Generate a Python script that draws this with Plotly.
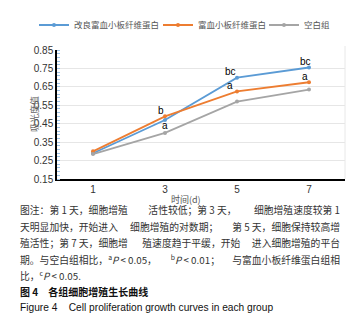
import re
import plotly.graph_objects as go

days = ["1", "3", "5", "7"]
improved_prf = [0.29, 0.47, 0.70, 0.755]
prf = [0.30, 0.49, 0.625, 0.675]
blank = [0.285, 0.40, 0.57, 0.635]
series_names = ["改良富血小板纤维蛋白", "富血小板纤维蛋白", "空白组"]
colors = ["#5B9BD5", "#ED7D31", "#A5A5A5"]
y_ticks = [0.15, 0.25, 0.35, 0.45, 0.55, 0.65, 0.75, 0.85]

# significance labels: (series index, day index, text)
sig_labels = [
    (1, 1, "b"), (0, 1, "a"),
    (0, 2, "bc"), (1, 2, "a"),
    (0, 3, "bc"), (1, 3, "a"),
]

# caption lines split into chunks (spread to mimic justified text)
caption_lines = [
    ["图注：第 1 天，细胞增殖", "活性较低；第 3 天，", "细胞增殖速度较第 1"],
    ["天明显加快，开始进入", "细胞增殖的对数期；", "第 5 天，细胞保持较高增"],
    ["殖活性；第 7 天，细胞增", "殖速度趋于平缓，开始", "进入细胞增殖的平台"],
    ["期。与空白组相比，<sup>a</sup><i>P</i> < 0.05，",
     "<sup>b</sup><i>P</i> < 0.01；", "与富血小板纤维蛋白组相"],
    ["比，<sup>c</sup><i>P</i> < 0.05."],
]
fig_title_cn = "<b>图 4　各组细胞增殖生长曲线</b>"
fig_title_en = "Figure 4\u00a0\u00a0\u00a0\u00a0Cell proliferation growth curves in each group"

# page body has an 8px margin: figure is drawn 8px right/down
OFF = 8
W, H = 359 - OFF, 323 - OFF


def fx(r):
    return (r - OFF) / W


def fy(r):
    return 1 - (r - OFF) / H


def pxx(r):
    return r - OFF


L, R, T, B = 57, 345, 50, 179  # plot box in reference pixels

CAP_FS = 9.8
RENDER = 1.12


def est_width(s, fs):
    s = re.sub(r"<sup>(.*?)</sup>", lambda m: "\x01" * len(m.group(1)), s)
    s = re.sub(r"<[^>]+>", "", s)
    w = 0.0
    for ch in s:
        if ch == "\x01":
            w += 0.4
        elif ord(ch) > 0x2E80:
            w += 1.0
        elif ch in " .,\u00a0":
            w += 0.27
        else:
            w += 0.52
    return w * fs * RENDER


fig = go.Figure()
all_series = [improved_prf, prf, blank]
legend_ids = ["legend", "legend2", "legend3"]
for name, vals, c, lg in zip(series_names, all_series, colors, legend_ids):
    fig.add_trace(go.Scatter(
        x=days, y=vals, name=name, mode="lines+markers",
        line=dict(color=c, width=1.8),
        marker=dict(color=c, size=4),
        legend=lg, xaxis="x", yaxis="y",
    ))

# caption text drawn as text traces on a hidden full-figure pixel axis
LEFT, RIGHT = 20, 340
cap_y = [212, 228.5, 245, 261.5, 278]
tx, ty, tt, tp = [], [], [], []
for yy, chunks in zip(cap_y, caption_lines):
    if len(chunks) == 1:
        tx.append(pxx(LEFT)); ty.append(pxx(yy)); tt.append(chunks[0]); tp.append("middle right")
        continue
    widths = [est_width(c, CAP_FS) for c in chunks]
    gap = (RIGHT - LEFT - sum(widths)) / (len(chunks) - 1)
    xpos = LEFT
    for i, (c, w) in enumerate(zip(chunks, widths)):
        if i == 0:
            tx.append(pxx(LEFT)); tp.append("middle right")
        elif i == len(chunks) - 1:
            tx.append(pxx(RIGHT)); tp.append("middle left")
        else:
            tx.append(pxx(xpos + w / 2)); tp.append("middle center")
        ty.append(pxx(yy)); tt.append(c)
        xpos += w + gap

fig.add_trace(go.Scatter(
    x=tx, y=ty, text=tt, textposition=tp, mode="text",
    textfont=dict(family="Noto Sans CJK SC", size=CAP_FS, color="#333"),
    xaxis="x2", yaxis="y2", showlegend=False, hoverinfo="skip", cliponaxis=False,
))
fig.add_trace(go.Scatter(
    x=[pxx(LEFT)], y=[pxx(293)], text=[fig_title_cn], textposition="middle right",
    mode="text", textfont=dict(family="Noto Sans CJK SC", size=10, color="#111"),
    xaxis="x2", yaxis="y2", showlegend=False, hoverinfo="skip", cliponaxis=False,
))
fig.add_trace(go.Scatter(
    x=[pxx(LEFT)], y=[pxx(308)], text=[fig_title_en], textposition="middle right",
    mode="text", textfont=dict(family="Liberation Sans, Arial", size=10.2, color="#111"),
    xaxis="x2", yaxis="y2", showlegend=False, hoverinfo="skip", cliponaxis=False,
))

annotations = []
for si, di, txt in sig_labels:
    yv = all_series[si][di]
    if si == 0 and di == 1:
        ysh, xsh = -5, 0
    elif di == 2:
        ysh, xsh = 6, -7
    else:
        ysh, xsh = 6, -4
    annotations.append(dict(
        x=di, y=yv, xref="x", yref="y", text=txt, showarrow=False,
        xshift=xsh, yshift=ysh,
        font=dict(family="Liberation Sans, Arial", size=10, color="#000"),
    ))

annotations.append(dict(
    x=fx(26), y=fy((T + B) / 2), xref="paper", yref="paper", text="吸光度值",
    textangle=-90, showarrow=False,
    font=dict(family="Noto Sans CJK SC", size=9, color="#666"),
))
annotations.append(dict(
    x=fx(186), y=fy(199), xref="paper", yref="paper", text="时间(d)",
    showarrow=False, yanchor="middle",
    font=dict(family="Noto Sans CJK SC", size=9, color="#555"),
))

leg_font = dict(family="Noto Sans CJK SC", size=8.5, color="#555")
leg_x = [34, 158, 264]
legends = {}
for lg, lx in zip(legend_ids, leg_x):
    legends[lg] = dict(
        orientation="h", x=fx(lx), y=fy(25), xanchor="left", yanchor="middle",
        font=leg_font, itemwidth=30, bgcolor="rgba(0,0,0,0)", borderwidth=0,
    )

fig.update_layout(
    width=W, height=H,
    margin=dict(l=0, r=0, t=0, b=0, pad=0, autoexpand=False),
    paper_bgcolor="white", plot_bgcolor="rgba(0,0,0,0)",
    showlegend=True,
    annotations=annotations,
    shapes=[dict(type="line", xref="paper", yref="paper", x0=fx(R), x1=fx(R),
                 y0=fy(B), y1=fy(T - 4), line=dict(color="#e8e8e8", width=1))],
    xaxis=dict(
        type="category", range=[-0.5, 3.5], domain=[fx(L), fx(R)], anchor="y",
        showline=True, linecolor="#000", linewidth=1.5,
        showgrid=False, ticks="", ticklen=0, automargin=False,
        tickfont=dict(family="Liberation Sans, Arial", size=10, color="#333"),
        zeroline=False, fixedrange=True,
    ),
    yaxis=dict(
        range=[0.15, 0.85], domain=[fy(B), fy(T)], anchor="x",
        tickvals=y_ticks, ticktext=[f"{v:.2f}" for v in y_ticks],
        showline=True, linecolor="#000", linewidth=1.5,
        showgrid=True, gridcolor="#e6e6e6", gridwidth=1,
        ticks="", ticklen=0, automargin=False,
        minor=dict(ticks="inside", ticklen=3, tickcolor="#9dc3e6", dtick=0.02,
                   tick0=0.15, showgrid=False),
        tickfont=dict(family="Liberation Sans, Arial", size=10, color="#333"),
        zeroline=False, fixedrange=True,
    ),
    xaxis2=dict(domain=[0, 1], range=[0, W], anchor="y2", visible=False,
                fixedrange=True, automargin=False),
    yaxis2=dict(domain=[0, 1], range=[H, 0], anchor="x2", visible=False,
                fixedrange=True, automargin=False),
    **legends,
)

fig.write_html("out.html")
